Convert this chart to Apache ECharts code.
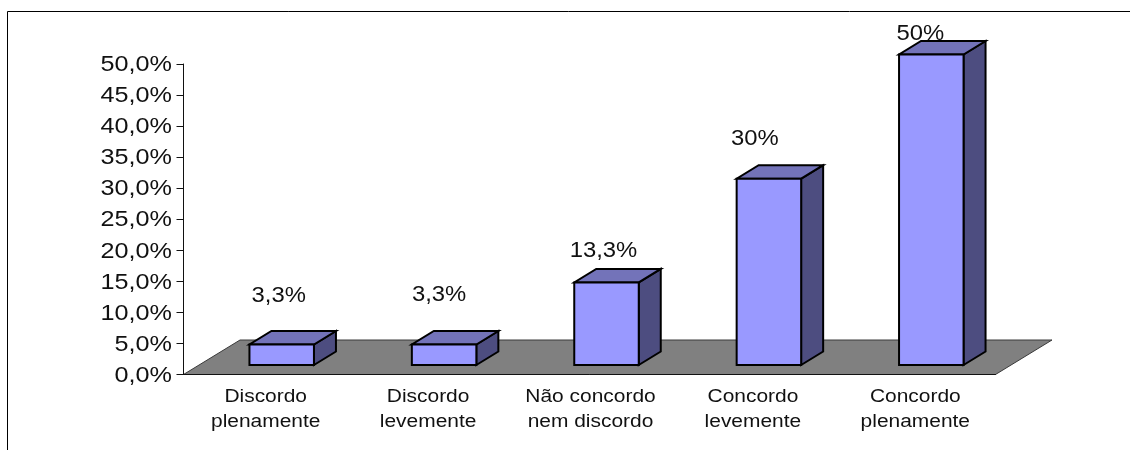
<!DOCTYPE html>
<html>
<head>
<meta charset="utf-8">
<style>
  html, body { margin: 0; padding: 0; background: #fff; }
  #chart { width: 1130px; height: 450px; }
</style>
<script src="https://cdn.jsdelivr.net/npm/echarts@6/dist/echarts.min.js"></script>
</head>
<body>
<div id="chart"></div>
<script>
// Survey answers and their share of respondents (percent).
const categories = [
  'Discordo\nplenamente',
  'Discordo\nlevemente',
  'Não concordo\nnem discordo',
  'Concordo\nlevemente',
  'Concordo\nplenamente'
];
const shares = [3.3, 3.3, 13.3, 30, 50];
const valueLabels = ['3,3%', '3,3%', '13,3%', '30%', '50%'];
const tickValues = [0, 5, 10, 15, 20, 25, 30, 35, 40, 45, 50];
const tickLabels = ['0,0%', '5,0%', '10,0%', '15,0%', '20,0%', '25,0%', '30,0%', '35,0%', '40,0%', '45,0%', '50,0%'];

// Hand-placed value labels, relative to the centre of each column's front top edge.
const labelShiftX = [-3, -5, -3, -14, -11];
const labelShiftY = [-48, -49, -31, -40, -20];

// All text is set wide: Arial-style glyphs stretched horizontally.
const FONT = '"Liberation Sans", Arial, sans-serif';
const TEXT_STRETCH = 1.12;
const BOX = { left: 183.5, top: 64, width: 812, height: 310.5 };
const FLOOR_DX = 56.5, FLOOR_DY = 34.5;   // receding floor
const BAR_DX = 22, BAR_DY = 13.5;         // column depth
const BAR_WIDTH = 64.5, BAR_SHIFT_X = 17, BAR_SHIFT_Y = -9.5;

function wideText(x, y, text, size, align, lineHeight) {
  return {
    type: 'text', x: x, y: y, scaleX: TEXT_STRETCH, z2: 10, silent: true,
    style: {
      text: text, fill: '#111', font: size + 'px ' + FONT, align: align, verticalAlign: 'middle',
      lineHeight: lineHeight || size
    }
  };
}

function renderFloor(params, api) {
  const origin = api.coord([0, 0]);
  const step = api.size([1, 0])[0];
  const x0 = origin[0] - step / 2;
  const x1 = x0 + step * categories.length;
  const y = origin[1];
  return {
    type: 'polygon',
    shape: { points: [[x0, y], [x1, y], [x1 + FLOOR_DX, y - FLOOR_DY], [x0 + FLOOR_DX, y - FLOOR_DY]] },
    style: { fill: '#808080', stroke: '#3a3a3a', lineWidth: 1 },
    silent: true
  };
}

function renderColumn(params, api) {
  const i = api.value(0);
  const base = api.coord([i, 0]);
  const top = api.coord([i, api.value(1)]);
  const x0 = base[0] + BAR_SHIFT_X - BAR_WIDTH / 2;
  const x1 = x0 + BAR_WIDTH;
  const yb = base[1] + BAR_SHIFT_Y;
  const yt = top[1] + BAR_SHIFT_Y;
  const edge = { stroke: '#000', lineWidth: 2, lineJoin: 'miter' };
  return {
    type: 'group',
    children: [
      { type: 'polygon', shape: { points: [[x1, yb], [x1 + BAR_DX, yb - BAR_DY], [x1 + BAR_DX, yt - BAR_DY], [x1, yt]] },
        style: Object.assign({ fill: '#4d4d80' }, edge) },
      { type: 'polygon', shape: { points: [[x0, yt], [x1, yt], [x1 + BAR_DX, yt - BAR_DY], [x0 + BAR_DX, yt - BAR_DY]] },
        style: Object.assign({ fill: '#7373b9' }, edge) },
      { type: 'rect', shape: { x: x0, y: yt, width: BAR_WIDTH, height: yb - yt },
        style: Object.assign({ fill: '#9999ff' }, edge) },
      wideText((x0 + x1) / 2 + labelShiftX[i], yt + labelShiftY[i], valueLabels[i], 21.3, 'center')
    ]
  };
}

// Value-axis tick labels, placed through the axis scale.
function renderTickLabel(params, api) {
  const p = api.coord([0, api.value(1)]);
  const left = p[0] - api.size([1, 0])[0] / 2;
  return wideText(left - 11.5, p[1] + 1, tickLabels[params.dataIndex], 22.5, 'right');
}

// Two-line category captions below the axis.
function renderCategoryLabel(params, api) {
  const p = api.coord([api.value(0), 0]);
  return wideText(p[0] + 1, p[1] + 35, categories[params.dataIndex], 18.7, 'center', 25);
}

const chart = echarts.init(document.getElementById('chart'), null, { renderer: 'canvas' });
chart.setOption({
  animation: false,
  backgroundColor: '#fff',
  grid: Object.assign({ containLabel: false }, BOX),
  xAxis: {
    type: 'category',
    data: categories,
    z: 5,
    axisLine: { lineStyle: { color: '#111', width: 1 } },
    axisTick: { alignWithLabel: false, length: 6, lineStyle: { color: '#111', width: 1 } },
    axisLabel: { show: false }
  },
  yAxis: {
    type: 'value',
    min: 0, max: 50, interval: 5,
    z: 5,
    splitLine: { show: false },
    axisLine: { show: true, lineStyle: { color: '#111', width: 1 } },
    axisTick: { show: true, length: 7, lineStyle: { color: '#111', width: 1 } },
    axisLabel: { show: false }
  },
  graphic: [{
    type: 'polyline',
    shape: { points: [[7.5, 450], [7.5, 11.5], [1130, 11.5]] },
    style: { stroke: '#000', lineWidth: 1, fill: null }
  }],
  series: [
    { type: 'custom', name: 'Piso', renderItem: renderFloor, data: [[0, 0]], clip: false, z: 1, silent: true,
      encode: { x: 0, y: 1 } },
    { type: 'custom', name: 'Respostas', renderItem: renderColumn, clip: false, z: 6, silent: true,
      data: shares.map((v, i) => [i, v]), encode: { x: 0, y: 1 } },
    { type: 'custom', name: 'Escala', renderItem: renderTickLabel, clip: false, z: 7, silent: true,
      data: tickValues.map(v => [0, v]), encode: { x: 0, y: 1 } },
    { type: 'custom', name: 'Categorias', renderItem: renderCategoryLabel, clip: false, z: 7, silent: true,
      data: categories.map((c, i) => [i, 0]), encode: { x: 0, y: 1 } }
  ]
});
</script>
</body>
</html>
